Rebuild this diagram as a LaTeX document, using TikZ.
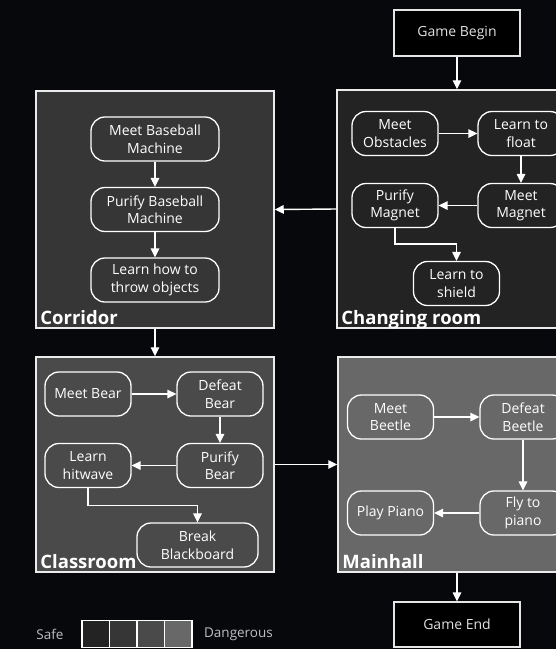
\documentclass[tikz,border=0pt]{standalone}
\usepackage{fontspec}
\setmainfont{Open Sans}
\usetikzlibrary{positioning, arrows.meta}

\definecolor{bgdark}{HTML}{07080B}
\definecolor{lvlA}{HTML}{232323}
\definecolor{lvlB}{HTML}{363636}
\definecolor{lvlC}{HTML}{4A4A4A}
\definecolor{lvlD}{HTML}{686868}

\begin{document}
\begin{tikzpicture}[x=1pt,y=-1pt,node distance=70pt,on grid,
	room/.style={draw=white!92!black, line width=1.5pt, inner sep=0pt},
	task/.style={draw=white, line width=1.3pt, rounded corners=14pt, text=white,
		minimum width=86pt, minimum height=44pt, align=center, inner sep=2pt,
		font=\fontsize{14}{17.5}\selectfont},
	endpoint/.style={draw=white!90!black, line width=1.3pt, fill=black, text=white!88!black,
		minimum width=126pt, font=\fontsize{14}{17}\selectfont},
	roomname/.style={anchor=base west, text=white, inner sep=0pt,
		font=\fontsize{18.5}{20}\selectfont\bfseries},
	level/.style={draw=white, line width=1.3pt, minimum size=27.5pt, inner sep=0pt},
	legendtext/.style={text=white!75!black, font=\fontsize{13.5}{15}\selectfont},
	flow/.style={color=white, line width=1.4pt, -{Triangle[length=9pt,width=8.5pt]}}]

	\fill[bgdark] (0,0) rectangle (556,649);
	\useasboundingbox (0,0) rectangle (556,649);
	\clip (0,0) rectangle (556,649);

	% rooms
	\node[room, fill=lvlB, minimum width=238pt, minimum height=237pt] (cor) at (155,209.5) {};
	\node[room, fill=lvlA, minimum width=223pt, minimum height=238pt] (chg) at (448.5,209) {};
	\node[room, fill=lvlC, minimum width=238pt, minimum height=215pt] (cls) at (155,464.5) {};
	\node[room, fill=lvlD, minimum width=222pt, minimum height=215pt] (hall) at (449,464.5) {};

	\node[roomname] at ([xshift=5pt,yshift=4pt]cor.south west) {Corridor};
	\node[roomname] at ([xshift=5pt,yshift=4pt]chg.south west) {Changing room};
	\node[roomname] at ([xshift=5pt,yshift=4pt]cls.south west) {Classroom};
	\node[roomname] at ([xshift=5pt,yshift=4pt]hall.south west) {Mainhall};

	\node[endpoint, minimum height=46pt] (begin) at (457,33) {Game Begin};
	\node[endpoint, minimum height=45pt] (end) at (457,624.5) {Game End};

	% corridor
	\node[task, minimum width=128pt] (mbm) at (155,139) {Meet Baseball\\Machine};
	\node[task, minimum width=128pt] (pbm) [below=70.5pt of mbm] {Purify Baseball\\Machine};
	\node[task, minimum width=128pt] (throw) [below=70.5pt of pbm] {Learn how to\\throw objects};

	% changing room
	\node[task] (obst) at (395,133.5) {Meet\\Obstacles};
	\node[task] (float) [right=126pt of obst] {Learn to\\float};
	\node[task] (mmag) [below=72pt of float] {Meet\\Magnet};
	\node[task] (pmag) [left=126pt of mmag] {Purify\\Magnet};
	\node[task] (shield) at (456.5,283.5) {Learn to\\shield};

	% classroom
	\node[task] (mbear) at (88,394) {Meet Bear};
	\node[task] (dbear) [right=132pt of mbear] {Defeat\\Bear};
	\node[task] (pbear) [below=71.5pt of dbear] {Purify\\Bear};
	\node[task] (hitw) [left=132pt of pbear] {Learn\\hitwave};
	\node[task, minimum width=121pt] (board) at (197.5,545) {Break\\Blackboard};

	% mainhall
	\node[task] (mbeet) at (390.5,417) {Meet\\Beetle};
	\node[task] (dbeet) [right=132.5pt of mbeet] {Defeat\\Beetle};
	\node[task] (fly) [below=96pt of dbeet] {Fly to\\piano};
	\node[task] (piano) [left=132.5pt of fly] {Play Piano};

	% legend
	\node[legendtext] (safe) at (50,634) {Safe};
	\node[level, fill=lvlA] (l1) at (95.75,634) {};
	\node[level, fill=lvlB] (l2) [right=27.5pt of l1] {};
	\node[level, fill=lvlC] (l3) [right=27.5pt of l2] {};
	\node[level, fill=lvlD] (l4) [right=27.5pt of l3] {};
	\node[legendtext] (danger) at (238.5,634) {Dangerous};

	\path (begin.south) edge[flow] (begin.south |- chg.north)
		(chg.west) edge[flow] (cor.east)
		(cor.south) edge[flow] (cls.north)
		(cls.east) edge[flow] (hall.west)
		(end.north |- hall.south) edge[flow] (end.north);

	\path (mbm) edge[flow] (pbm)
		(pbm) edge[flow] (throw)
		(obst) edge[flow] (float)
		(float) edge[flow] (mmag)
		(mmag) edge[flow] (pmag)
		(mbear) edge[flow] (dbear)
		(dbear) edge[flow] (pbear)
		(pbear) edge[flow] (hitw)
		(mbeet) edge[flow] (dbeet)
		(dbeet) edge[flow] (fly)
		(fly) edge[flow] (piano);
	\draw[flow] (pmag.south) |- ([yshift=17pt]shield.north) -- (shield.north);
	\draw[flow] (hitw.south) |- ([yshift=17pt]board.north) -- (board.north);
\end{tikzpicture}
\end{document}
